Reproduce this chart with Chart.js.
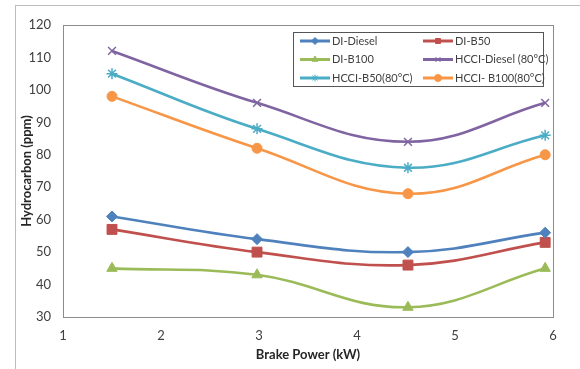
<!DOCTYPE html>
<html lang="en">
<head>
<meta charset="utf-8"/>
<title>Hydrocarbon vs Brake Power</title>
<script src="https://cdn.jsdelivr.net/npm/chart.js@4.4.3/dist/chart.umd.min.js"></script>
<style>
  * { box-sizing: border-box; }
  html, body { margin: 0; padding: 0; background: #fff; }
  .wrap { position: relative; width: 580px; height: 369px; overflow: hidden; }
  .frame { position: absolute; left: 15px; top: 5px; width: 600px; height: 400px; border: 1px solid #bdbdbd; }
  canvas { position: absolute; left: 0; top: 0; }
</style>
</head>
<body>
<div class="wrap">
  <div class="frame"></div>
  <canvas id="chart" width="580" height="369"></canvas>
</div>
<script>
// brake power (kW) at the four load points
const brakePower = [1.5, 2.98, 4.52, 5.92];

const diDiesel   = [61, 54, 50, 56];
const diB50      = [57, 50, 46, 53];
const diB100     = [45, 43, 33, 45];
const hcciDiesel = [112, 96, 84, 96];
const hcciB50    = [105, 88, 76, 86];
const hcciB100   = [98, 82, 68, 80];

const seriesNames = ['DI-Diesel', 'DI-B50', 'DI-B100', 'HCCI-Diesel (80°C)', 'HCCI-B50(80°C)', 'HCCI- B100(80°C)'];
const seriesValues = [diDiesel, diB50, diB100, hcciDiesel, hcciB50, hcciB100];
const COLORS = ['#4F81BD', '#C0504D', '#9BBB59', '#8064A2', '#4BACC6', '#F79646'];
const MARKERS = ['rectRot', 'rect', 'triangle', 'crossRot', 'star', 'circle'];
const RADII = [5.5, 7, 6, 5.5, 5.5, 5];

const FONT = 'Lato, "Open Sans", sans-serif';
const TEXT = '#404040';

const toPoints = (vals) => vals.map((v, i) => ({ x: brakePower[i], y: v }));

const datasets = seriesValues.map((vals, i) => ({
  label: seriesNames[i],
  data: toPoints(vals),
  borderColor: COLORS[i],
  backgroundColor: COLORS[i],
  pointBackgroundColor: COLORS[i],
  pointBorderColor: COLORS[i],
  pointStyle: MARKERS[i],
  pointRadius: RADII[i],
  pointBorderWidth: (MARKERS[i] === 'crossRot' || MARKERS[i] === 'star') ? 1.5 : 1,
  borderWidth: 2.6,
  tension: 0.4,
  fill: false,
}));

// plot frame + legend box drawn inside the chart area
const framePlugin = {
  id: 'frame',
  beforeDatasetsDraw(chart) {
    const { ctx, chartArea: a } = chart;
    ctx.save();
    ctx.strokeStyle = '#8c8c8c';
    ctx.lineWidth = 1;
    ctx.strokeRect(Math.round(a.left) + 0.5, Math.round(a.top) + 0.5, Math.round(a.right - a.left), Math.round(a.bottom - a.top));
    ctx.restore();
  },
  afterDraw(chart) {
    const ctx = chart.ctx;
    ctx.save();
    ctx.fillStyle = '#fff';
    ctx.fillRect(293, 32, 250, 54);
    ctx.strokeStyle = '#555';
    ctx.lineWidth = 1;
    ctx.strokeRect(293.5, 32.5, 250, 54);
    ctx.font = '11px ' + FONT;
    ctx.textBaseline = 'middle';
    ctx.textAlign = 'left';
    chart.data.datasets.forEach((ds, i) => {
      const col = i % 2, row = Math.floor(i / 2);
      const x0 = col ? 423 : 300;
      const y = 41 + row * 18.5;
      ctx.strokeStyle = ds.borderColor;
      ctx.lineWidth = 3;
      ctx.beginPath();
      ctx.moveTo(x0, y);
      ctx.lineTo(x0 + 30, y);
      ctx.stroke();
      ctx.fillStyle = ds.backgroundColor;
      ctx.strokeStyle = ds.borderColor;
      ctx.lineWidth = 1;
      Chart.helpers.drawPoint(ctx, { pointStyle: ds.pointStyle, radius: 3.5, rotation: 0, borderWidth: 1 }, x0 + 15, y);
      ctx.fillStyle = TEXT;
      ctx.fillText(ds.label, x0 + 32, y);
    });
    ctx.restore();
  },
};

new Chart(document.getElementById('chart'), {
  type: 'line',
  data: { datasets },
  options: {
    responsive: false,
    animation: false,
    layout: { padding: { left: 15, top: 25, right: 27, bottom: 0 } },
    plugins: { legend: { display: false }, tooltip: { enabled: false } },
    scales: {
      x: {
        type: 'linear', min: 1, max: 6,
        grid: { display: false, drawTicks: false },
        border: { display: false },
        ticks: { stepSize: 1, padding: 11, color: TEXT, font: { family: FONT, size: 13 } },
        title: { display: true, text: 'Brake Power (kW)', color: '#262626', padding: { top: 0, bottom: 6 }, font: { family: FONT, size: 13, weight: 'bold' } },
        afterFit(scale) { scale.height = 52; },
      },
      y: {
        min: 30, max: 120,
        grid: { display: false, drawTicks: false },
        border: { display: false },
        ticks: { stepSize: 10, padding: 12, color: TEXT, font: { family: FONT, size: 13 } },
        title: { display: true, text: 'Hydrocarbon (ppm)', color: '#262626', padding: { top: 4, bottom: 0 }, font: { family: FONT, size: 13, weight: 'bold' } },
        afterFit(scale) { scale.width = 48; },
      },
    },
  },
  plugins: [framePlugin],
});
</script>
</body>
</html>
